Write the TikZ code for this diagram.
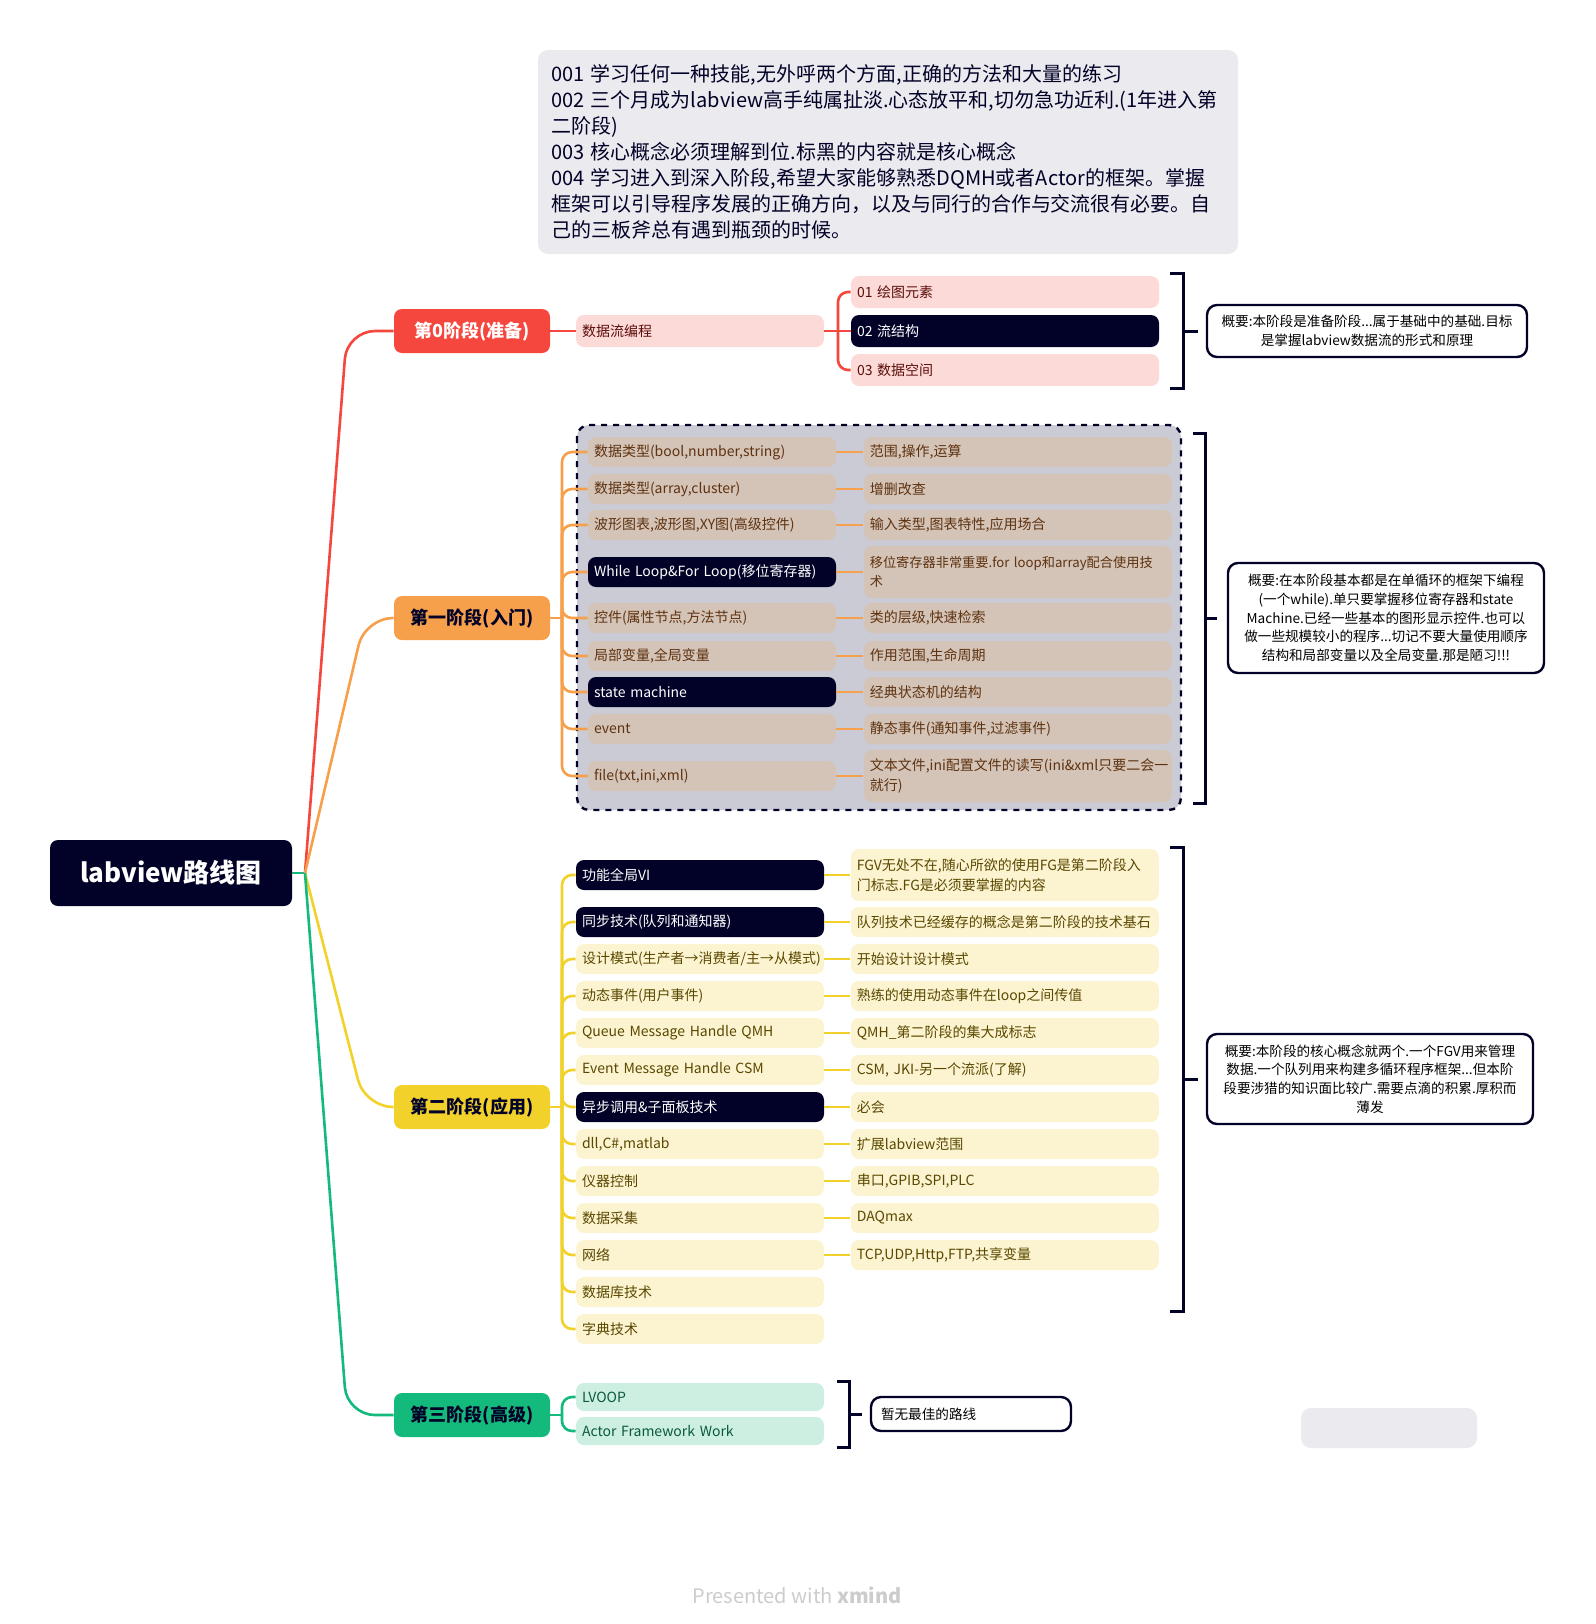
\documentclass[tikz,border=0pt]{standalone}
\usepackage{fontspec}
\setmainfont{Noto Sans CJK SC}
\usetikzlibrary{positioning}
\hyphenpenalty=10000
\exhyphenpenalty=10000
\definecolor{lvnavy}{HTML}{020228}
\definecolor{lvgray}{HTML}{EBEAEE}
\definecolor{lvred}{HTML}{F5473E}
\definecolor{lvpink}{HTML}{FCDAD8}
\definecolor{lvredtxt}{HTML}{5C0E0A}
\definecolor{lvorange}{HTML}{F7A04B}
\definecolor{lvtan}{HTML}{D4C3B7}
\definecolor{lvbrown}{HTML}{5E3310}
\definecolor{lvdash}{HTML}{CBCBD6}
\definecolor{lvyellow}{HTML}{F2D12B}
\definecolor{lvcream}{HTML}{FCF4D0}
\definecolor{lvolive}{HTML}{5A4800}
\definecolor{lvgreen}{HTML}{14B97C}
\definecolor{lvmint}{HTML}{CCEFE2}
\definecolor{lvdkgreen}{HTML}{0A5A3A}
\tikzset{
  root/.style={fill=lvnavy,text=white,rounded corners=4pt,minimum width=121pt,minimum height=33pt,font=\fontsize{13}{15}\selectfont\bfseries},
  stage/.style={rounded corners=4pt,minimum width=78pt,minimum height=22pt,font=\fontsize{9}{11}\selectfont\bfseries},
  item/.style={rounded corners=4pt,inner xsep=3pt,inner ysep=1pt,minimum height=15pt,align=left,font=\fontsize{7}{9.8}\selectfont},
  lft/.style={item,text width=118pt},
  rgt/.style={item,text width=148pt},
  pinkitem/.style={fill=lvpink,text=lvredtxt},
  tanitem/.style={fill=lvtan,text=lvbrown},
  creamitem/.style={fill=lvcream,text=lvolive},
  mintitem/.style={fill=lvmint,text=lvdkgreen},
  hot/.style={fill=lvnavy,text=white},
  summ/.style={draw=lvnavy,line width=1.2pt,fill=white,rounded corners=5pt,align=center,inner sep=2pt,font=\fontsize{6.8}{9.3}\selectfont},
  brk/.style={draw=lvnavy,line width=1.5pt},
  rline/.style={draw=lvred,line width=1.3pt},
  oline/.style={draw=lvorange,line width=1.3pt},
  yline/.style={draw=lvyellow,line width=1.3pt},
  gline/.style={draw=lvgreen,line width=1.3pt},
}
\begin{document}
\begin{tikzpicture}[x=0.5pt,y=-0.5pt]
  \useasboundingbox (0,0) rectangle (1596,1624);
  % notes on top
  \node[fill=lvgray,rounded corners=5pt,minimum width=350pt,minimum height=102pt,text width=337pt,align=left,font=\fontsize{10}{12.95}\selectfont,text=lvnavy] (notes) at (888,152)
    {001~学习任何一种技能,无外呼两个方面,正确的方法和大量的练习\\
     002~三个月成为labview高手纯属扯淡.心态放平和,切勿急功近利.(1年进入第\\
     二阶段)\\
     003~核心概念必须理解到位.标黑的内容就是核心概念\\
     004~学习进入到深入阶段,希望大家能够熟悉DQMH或者Actor的框架。掌握\\
     框架可以引导程序发展的正确方向，以及与同行的合作与交流很有必要。自\\
     己的三板斧总有遇到瓶颈的时候。};
  \node[root] (root) at (171,873) {labview路线图};
  \coordinate (hub) at (305,873);

  % stage 0
  \node[stage,fill=lvred,text=white] (s0) at (472,331) {第0阶段(准备)};
  \node[lft,pinkitem,minimum height=16pt] (df) at (700,331) {数据流编程};
  \node[rgt,pinkitem,minimum height=16pt] (a1) at (1005,292) {01 绘图元素};
  \node[rgt,pinkitem,hot,minimum height=16pt] (a2) at (1005,331) {02 流结构};
  \node[rgt,pinkitem,minimum height=16pt] (a3) at (1005,370) {03 数据空间};
  \node[summ,text width=154pt,minimum width=160pt,minimum height=26pt] (n0) at (1367,331)
    {概要:本阶段是准备阶段...属于基础中的基础.目标\\是掌握labview数据流的形式和原理};

  % stage 1, inside the dashed frame
  \draw[draw=lvnavy,dashed,line width=1.2pt,fill=lvdash,rounded corners=6pt] (577,425) rectangle (1181,810);
  \node[stage,fill=lvorange,text=lvnavy] (s1) at (472,618) {第一阶段(入门)};
  \node[lft,tanitem] (p1) at (712,452) {数据类型(bool,number,string)};
  \node[lft,tanitem] (p2) at (712,489) {数据类型(array,cluster)};
  \node[lft,tanitem] (p3) at (712,525) {波形图表,波形图,XY图(高级控件)};
  \node[lft,tanitem,hot] (p4) at (712,572) {While Loop\&For Loop(移位寄存器)};
  \node[lft,tanitem] (p5) at (712,618) {控件(属性节点,方法节点)};
  \node[lft,tanitem] (p6) at (712,656) {局部变量,全局变量};
  \node[lft,tanitem,hot] (p7) at (712,692) {state machine};
  \node[lft,tanitem] (p8) at (712,729) {event};
  \node[lft,tanitem] (p9) at (712,776) {file(txt,ini,xml)};
  \node[rgt,tanitem,right=13.5pt of p1] (q1) {范围,操作,运算};
  \node[rgt,tanitem,right=13.5pt of p2] (q2) {增删改查};
  \node[rgt,tanitem,right=13.5pt of p3] (q3) {输入类型,图表特性,应用场合};
  \node[rgt,tanitem,right=13.5pt of p4,minimum height=26pt,font=\fontsize{6.6}{9.8}\selectfont] (q4) {移位寄存器非常重要.for~loop和array配合使用技\\术};
  \node[rgt,tanitem,right=13.5pt of p5] (q5) {类的层级,快速检索};
  \node[rgt,tanitem,right=13.5pt of p6] (q6) {作用范围,生命周期};
  \node[rgt,tanitem,right=13.5pt of p7] (q7) {经典状态机的结构};
  \node[rgt,tanitem,right=13.5pt of p8] (q8) {静态事件(通知事件,过滤事件)};
  \node[rgt,tanitem,right=13.5pt of p9,minimum height=26pt] (q9) {文本文件,ini配置文件的读写(ini\&xml只要二会一\\就行)};
  \node[summ,text width=152pt,minimum width=158pt,minimum height=55pt] (n1) at (1386,618)
    {概要:在本阶段基本都是在单循环的框架下编程\\(一个while).单只要掌握移位寄存器和state\\Machine.已经一些基本的图形显示控件.也可以\\做一些规模较小的程序...切记不要大量使用顺序\\结构和局部变量以及全局变量.那是陋习!!!};

  % stage 2
  \node[stage,fill=lvyellow,text=lvnavy] (s2) at (472,1107) {第二阶段(应用)};
  \node[lft,creamitem,hot] (u1) at (700,875) {功能全局VI};
  \node[lft,creamitem,hot] (u2) at (700,922) {同步技术(队列和通知器)};
  \node[lft,creamitem] (u3) at (700,959) {设计模式(生产者→消费者/主→从模式)};
  \node[lft,creamitem] (u4) at (700,996) {动态事件(用户事件)};
  \node[lft,creamitem] (u5) at (700,1033) {Queue Message Handle QMH};
  \node[lft,creamitem] (u6) at (700,1070) {Event Message Handle CSM};
  \node[lft,creamitem,hot] (u7) at (700,1107) {异步调用\&子面板技术};
  \node[lft,creamitem] (u8) at (700,1144) {dll,C\#,matlab};
  \node[lft,creamitem] (u9) at (700,1181) {仪器控制};
  \node[lft,creamitem] (u10) at (700,1218) {数据采集};
  \node[lft,creamitem] (u11) at (700,1255) {网络};
  \node[lft,creamitem] (u12) at (700,1292) {数据库技术};
  \node[lft,creamitem] (u13) at (700,1329) {字典技术};
  \node[rgt,creamitem,right=13pt of u1,minimum height=26pt] (v1) {FGV无处不在,随心所欲的使用FG是第二阶段入\\门标志.FG是必须要掌握的内容};
  \node[rgt,creamitem,right=13pt of u2] (v2) {队列技术已经缓存的概念是第二阶段的技术基石};
  \node[rgt,creamitem,right=13pt of u3] (v3) {开始设计设计模式};
  \node[rgt,creamitem,right=13pt of u4] (v4) {熟练的使用动态事件在loop之间传值};
  \node[rgt,creamitem,right=13pt of u5] (v5) {QMH\_第二阶段的集大成标志};
  \node[rgt,creamitem,right=13pt of u6] (v6) {CSM,~JKI-另一个流派(了解)};
  \node[rgt,creamitem,right=13pt of u7] (v7) {必会};
  \node[rgt,creamitem,right=13pt of u8] (v8) {扩展labview范围};
  \node[rgt,creamitem,right=13pt of u9] (v9) {串口,GPIB,SPI,PLC};
  \node[rgt,creamitem,right=13pt of u10] (v10) {DAQmax};
  \node[rgt,creamitem,right=13pt of u11] (v11) {TCP,UDP,Http,FTP,共享变量};
  \node[summ,text width=156pt,minimum width=163pt,minimum height=45pt] (n2) at (1370,1079)
    {概要:本阶段的核心概念就两个.一个FGV用来管理\\数据.一个队列用来构建多循环程序框架...但本阶\\段要涉猎的知识面比较广.需要点滴的积累.厚积而\\薄发};

  % stage 3
  \node[stage,fill=lvgreen,text=lvnavy] (s3) at (472,1415) {第三阶段(高级)};
  \node[lft,mintitem,minimum height=14pt] (w1) at (700,1397) {LVOOP};
  \node[lft,mintitem,minimum height=14pt] (w2) at (700,1431) {Actor Framework Work};
  \node[summ,align=left,text width=90pt,inner xsep=5pt,minimum height=17pt] (n3) at (971,1414) {暂无最佳的路线};

  \node[fill=lvgray,rounded corners=5pt,minimum width=88pt,minimum height=20pt] (blank) at (1389,1428) {};
  \node[text=black!20,font=\fontsize{10}{12}\selectfont] (mark) at (797,1595) {Presented with \textbf{xmind}};

  % brackets
  \draw[brk] (1170,273) -- (1183,273) -- (1183,388) -- (1170,388);
  \draw[brk] (1183,331) -- (1198,331);
  \draw[brk] (1193,433) -- (1205,433) -- (1205,803) -- (1193,803);
  \draw[brk] (1205,618) -- (1217,618);
  \draw[brk] (1170,847) -- (1183,847) -- (1183,1311) -- (1170,1311);
  \draw[brk] (1183,1079) -- (1198,1079);
  \draw[brk] (837,1381) -- (849,1381) -- (849,1447) -- (837,1447);
  \draw[brk] (849,1414) -- (862,1414);

  % main branches
  \draw[gline] (root.east) -- (hub);
  \draw[rline,rounded corners=14pt] (hub) -- (347,331) -- (s0.west);
  \draw[oline,rounded corners=14pt] (hub) -- (365,618) -- (s1.west);
  \draw[yline,rounded corners=14pt] (hub) -- (365,1107) -- (s2.west);
  \draw[gline,rounded corners=14pt] (hub) -- (347,1415) -- (s3.west);

  % stage 0 links
  \coordinate (k0) at (838,331);
  \draw[rline] (s0) -- (df);
  \draw[rline] (df) -- (a2);
  \draw[rline,rounded corners=5pt] (k0) |- (a1.west);
  \draw[rline,rounded corners=5pt] (k0) |- (a3.west);

  % stage 1 links
  \coordinate (k1) at (562,618);
  \draw[oline] (s1) -- (k1);
  \foreach \i in {1,...,9} \draw[oline,rounded corners=5pt] (k1) |- (p\i.west);
  \foreach \i in {1,...,9} \draw[oline] (p\i) -- (q\i);

  % stage 2 links
  \coordinate (k2) at (562,1107);
  \draw[yline] (s2) -- (k2);
  \foreach \i in {1,...,13} \draw[yline,rounded corners=5pt] (k2) |- (u\i.west);
  \foreach \i in {1,...,11} \draw[yline] (u\i) -- (v\i);

  % stage 3 links
  \coordinate (k3) at (562,1415);
  \draw[gline] (s3) -- (k3);
  \foreach \i in {1,2} \draw[gline,rounded corners=5pt] (k3) |- (w\i.west);
\end{tikzpicture}
\end{document}
